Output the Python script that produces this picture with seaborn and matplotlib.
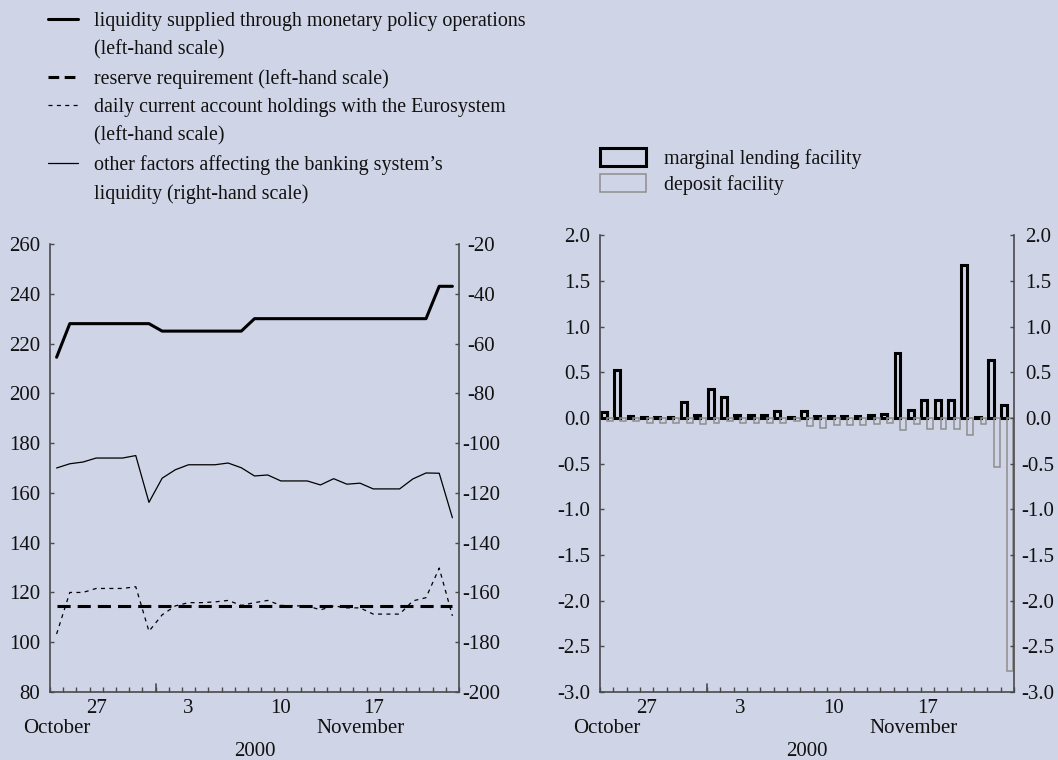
import numpy as np
import pandas as pd
import seaborn as sns
import matplotlib.pyplot as plt
from matplotlib.lines import Line2D
from matplotlib.patches import Patch

# Reserve maintenance period 24 October - 23 November 2000 (EUR billions)
dates = pd.date_range('2000-10-24', '2000-11-23', freq='D')

liquidity = [214.5, 228, 228, 228, 228, 228, 228, 228, 225, 225, 225, 225, 225, 225, 225,
             230, 230, 230, 230, 230, 230, 230, 230, 230, 230, 230, 230, 230, 230, 243, 243]
reserve = [114.6] * 31
current_account = [103.3, 120.0, 120.0, 121.6, 121.6, 121.6, 122.3, 104.4, 111.0, 114.6, 115.9,
                   115.9, 116.2, 116.8, 114.8, 115.9, 116.8, 114.8, 114.6, 114.6, 113.0, 114.6,
                   113.8, 113.8, 111.3, 111.3, 111.3, 116.6, 117.9, 129.8, 110.6]
other_factors = [-110.0, -108.3, -107.6, -106.0, -106.0, -106.0, -105.0, -123.8, -114.1, -110.7,
                 -108.7, -108.7, -108.7, -108.0, -109.9, -113.2, -112.8, -115.2, -115.2, -115.2,
                 -116.8, -114.3, -116.5, -116.1, -118.4, -118.4, -118.4, -114.4, -112.0, -112.1,
                 -130.0]

marginal = [0.07, 0.52, 0.02, 0.01, 0.01, 0.01, 0.17, 0.03, 0.32, 0.23, 0.03, 0.03, 0.03, 0.08,
            0.01, 0.08, 0.02, 0.02, 0.02, 0.02, 0.03, 0.04, 0.71, 0.09, 0.20, 0.20, 0.20, 1.68,
            0.01, 0.64, 0.14]
deposit = [-0.03, -0.03, -0.03, -0.055, -0.055, -0.055, -0.05, -0.07, -0.06, -0.03, -0.05, -0.05,
           -0.05, -0.06, -0.03, -0.09, -0.11, -0.08, -0.08, -0.08, -0.07, -0.06, -0.135, -0.07,
           -0.12, -0.12, -0.12, -0.19, -0.065, -0.54, -2.77]

day_ticks = ['27', '3', '10', '17']
day_tick_dates = ['2000-10-27', '2000-11-03', '2000-11-10', '2000-11-17']
month_labels = ['October', 'November']
month_label_dates = ['2000-10-24', '2000-11-16']

left_ticks = [80, 100, 120, 140, 160, 180, 200, 220, 240, 260]
right_ticks = [-200, -180, -160, -140, -120, -100, -80, -60, -40, -20]
bar_ticks = [-3.0, -2.5, -2.0, -1.5, -1.0, -0.5, 0.0, 0.5, 1.0, 1.5, 2.0]

bg = '#CFD4E6'
spine_col = '#4a4a4a'
txt_col = '#111111'

sns.set_theme(style='ticks')
plt.rcParams['font.family'] = ['Liberation Serif', 'DejaVu Serif']
plt.rcParams['axes.unicode_minus'] = False
plt.rcParams['text.color'] = txt_col

pos = np.arange(len(dates))
date_pos = {d.strftime('%Y-%m-%d'): i for i, d in enumerate(dates)}

W, H = 1058, 760
fig = plt.figure(figsize=(W / 100, H / 100), dpi=100, facecolor=bg)
ax1 = fig.add_axes([50 / W, 68 / H, 409 / W, 448 / H])
ax2 = fig.add_axes([600 / W, 68 / H, 414 / W, 456.7 / H])


def style_axis(ax, yticks, ylim, side, pad=7):
    ax.set_facecolor(bg)
    ax.set_ylim(*ylim)
    ax.set_yticks(yticks)
    ax.set_yticklabels([f'{t:g}' if isinstance(t, int) else f'{t:.1f}' for t in yticks])
    ax.tick_params(axis='y', direction='in', length=3, width=1, color=spine_col,
                   labelsize=15, labelcolor=txt_col, pad=pad)
    for s in ax.spines.values():
        s.set_color(spine_col)
        s.set_linewidth(1.2)
    ax.spines['top'].set_visible(False)
    if side == 'left':
        ax.spines['right'].set_visible(False)
    else:
        ax.spines['left'].set_visible(False)
        ax.spines['bottom'].set_visible(False)
        # right-hand labels are centred on a fixed column
        for lab in ax.get_yticklabels():
            lab.set_horizontalalignment('center')
    ax.set_xlabel('')
    ax.set_ylabel('')


def style_xaxis(ax):
    ax.set_xlim(-0.5, len(dates) - 0.5)
    ax.set_xticks([date_pos[d] for d in day_tick_dates])
    ax.set_xticklabels(day_ticks)
    ax.set_xticks(np.arange(-0.5, len(dates)), minor=True)
    ax.tick_params(axis='x', which='major', length=0, labelsize=15, labelcolor=txt_col, pad=5)
    ax.tick_params(axis='x', which='minor', direction='in', length=3.5, width=1, color=spine_col)
    # month boundary
    ax.axvline(date_pos['2000-11-01'] - 0.5, ymin=0, ymax=8 / (ax.bbox.height), color=spine_col, lw=1.2)
    for lab, d in zip(month_labels, month_label_dates):
        ax.annotate(lab, xy=(date_pos[d], 0), xycoords=('data', 'axes fraction'),
                    xytext=(0, -26.5), textcoords='offset points', ha='center', va='center',
                    fontsize=15)
    ax.annotate('2000', xy=(0.5, 0), xycoords='axes fraction', xytext=(0, -42.5),
                textcoords='offset points', ha='center', va='center', fontsize=15)


# ---- left chart: lines
sns.lineplot(x=pos, y=liquidity, ax=ax1, color='black', lw=2.2)
sns.lineplot(x=pos, y=reserve, ax=ax1, color='black', lw=2.2)
ax1.lines[-1].set_dashes((4.3, 2.3))
sns.lineplot(x=pos, y=current_account, ax=ax1, color='black', lw=0.9)
ax1.lines[-1].set_dashes((3.2, 3.5))
style_axis(ax1, left_ticks, (80, 260), 'left')
style_xaxis(ax1)

ax1r = ax1.twinx()
sns.lineplot(x=pos, y=other_factors, ax=ax1r, color='black', lw=0.9)
style_axis(ax1r, right_ticks, (-200, -20), 'right', pad=15.8)
ax1r.set_xlim(-0.5, len(dates) - 0.5)

# ---- right chart: bars
bars = pd.DataFrame({
    'day': np.concatenate([pos, pos]),
    'value': marginal + deposit,
    'facility': ['marginal lending facility'] * len(pos) + ['deposit facility'] * len(pos),
})
sns.barplot(data=bars, x='day', y='value', hue='facility', ax=ax2, fill=False, width=0.88,
            palette={'marginal lending facility': 'black', 'deposit facility': '#8e8e8e'},
            errorbar=None, legend=False)
for cont, lw in zip(ax2.containers, [2.2, 1.1]):
    for p in cont.patches:
        p.set_linewidth(lw)
style_axis(ax2, bar_ticks, (-3.0, 2.0), 'left')
style_xaxis(ax2)

ax2r = ax2.twinx()
style_axis(ax2r, bar_ticks, (-3.0, 2.0), 'right', pad=17.3)

# ---- legends
line_handles = [
    Line2D([], [], color='black', lw=2.2),
    Line2D([], [], color='none'),
    Line2D([], [], color='black', lw=2.2, dashes=(3.5, 1.8)),
    Line2D([], [], color='black', lw=0.9, dashes=(3.2, 3.5)),
    Line2D([], [], color='none'),
    Line2D([], [], color='black', lw=0.9),
    Line2D([], [], color='none'),
]
line_labels = [
    'liquidity supplied through monetary policy operations',
    '(left-hand scale)',
    'reserve requirement (left-hand scale)',
    'daily current account holdings with the Eurosystem',
    '(left-hand scale)',
    'other factors affecting the banking system\u2019s',
    'liquidity (right-hand scale)',
]
fig.legend(line_handles, line_labels, loc='upper left', bbox_to_anchor=(48 / W, 1 - 12 / H),
           frameon=False, fontsize=14.4, handlelength=1.5, handletextpad=0.8,
           labelspacing=0.46, borderpad=0, borderaxespad=0)

bar_handles = [Patch(facecolor='none', edgecolor='black', lw=2.2),
               Patch(facecolor='none', edgecolor='#8e8e8e', lw=1.1)]
fig.legend(bar_handles, ['marginal lending facility', 'deposit facility'], loc='upper left',
           bbox_to_anchor=(600 / W, 1 - 148 / H), frameon=False, fontsize=14.4,
           handlelength=2.3, handleheight=1.0, handletextpad=0.9, labelspacing=0.25,
           borderpad=0, borderaxespad=0)

fig.savefig('out.png', dpi=100, facecolor=bg)
